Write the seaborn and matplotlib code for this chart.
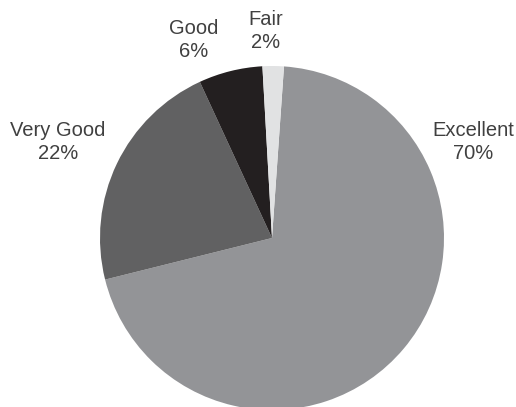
import matplotlib
matplotlib.use("Agg")
import matplotlib.pyplot as plt
import seaborn as sns

categories = ["Excellent", "Very Good", "Good", "Fair"]
shares = [70, 22, 6, 2]
colors = ["#939497", "#616162", "#231f20", "#e1e2e3"]

sns.set_theme(style="white")
plt.rcParams["font.family"] = ["Liberation Sans", "DejaVu Sans"]

fig = plt.figure(figsize=(5.16, 4.07), dpi=100)
ax = fig.add_axes([0, 0, 1, 1])

ax.pie(shares, colors=colors, startangle=86, counterclock=False,
       radius=1.0, center=(0, 0), wedgeprops=dict(linewidth=0))

# pixel layout: pie centre at (272, 238), radius 172 px
R = 172.0
cx, cy = 272.0, 238.0
W, H = 516.0, 407.0
ax.set_aspect("auto")
ax.set_xlim(-cx / R, (W - cx) / R)
ax.set_ylim(-(H - cy) / R, cy / R)
ax.axis("off")

label_px = {
    "Excellent": (473, 142),
    "Very Good": (58, 142),
    "Good": (194, 40),
    "Fair": (266, 31),
}
for cat, val in zip(categories, shares):
    px, py = label_px[cat]
    ax.text((px - cx) / R, (cy - py) / R, f"{cat}\n{val}%",
            ha="center", va="center", fontsize=14.5, color="#404040",
            linespacing=1.25)

fig.savefig("out.png", dpi=100)
